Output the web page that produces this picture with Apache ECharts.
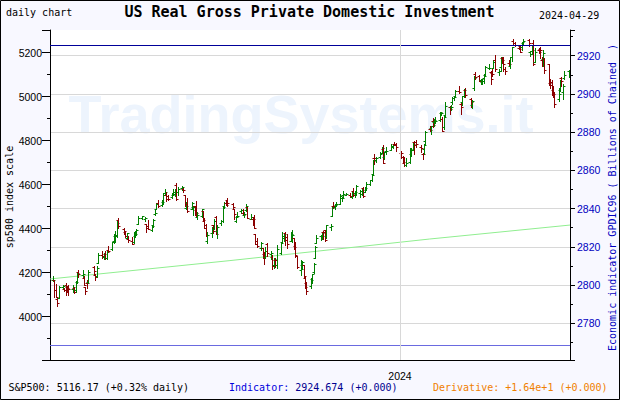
<!DOCTYPE html>
<html><head><meta charset="utf-8">
<script src="https://cdn.jsdelivr.net/npm/echarts@6.0.0/dist/echarts.min.js"></script>
<style>html,body{margin:0;padding:0;background:#f8f8ff}#c{width:620px;height:400px}</style>
</head><body><div id="c"></div>
<script>
// S&P500 daily bars: [day, open, high, low, close]
const m2023_05 = [[1,4166,4186,4164,4168],[2,4165,4165,4089,4120],[3,4122,4148,4088,4091],[4,4082,4083,4049,4061],[5,4084,4139,4084,4136],[8,4137,4143,4124,4138],[9,4125,4131,4116,4119],[10,4144,4155,4099,4138],[11,4133,4135,4110,4131],[12,4139,4143,4099,4124],[15,4127,4142,4114,4136],[16,4128,4136,4109,4110],[17,4123,4164,4114,4159],[18,4157,4202,4154,4198],[19,4204,4213,4180,4192],[22,4191,4210,4180,4193],[23,4176,4186,4143,4146],[24,4133,4133,4103,4115],[25,4155,4166,4129,4151],[26,4157,4213,4155,4205],[30,4227,4231,4193,4206],[31,4191,4195,4166,4180]];
const m2023_06 = [[1,4184,4232,4181,4221],[2,4242,4290,4242,4282],[5,4282,4299,4267,4274],[6,4271,4288,4263,4284],[7,4285,4299,4264,4268],[8,4268,4298,4261,4294],[9,4305,4322,4293,4299],[12,4308,4340,4303,4339],[13,4345,4375,4337,4369],[14,4367,4391,4340,4373],[15,4366,4439,4364,4426],[16,4440,4449,4405,4410],[20,4397,4401,4377,4389],[21,4387,4388,4360,4366],[22,4356,4382,4352,4382],[23,4355,4366,4341,4348],[26,4345,4363,4328,4329],[27,4338,4384,4336,4378],[28,4367,4391,4361,4377],[29,4382,4398,4372,4396],[30,4422,4458,4422,4450]];
const m2023_07 = [[3,4450,4456,4442,4456],[5,4443,4454,4437,4447],[6,4423,4423,4386,4412],[7,4404,4440,4398,4399],[10,4394,4412,4389,4410],[11,4415,4443,4408,4439],[12,4467,4488,4464,4472],[13,4491,4518,4491,4510],[14,4515,4528,4498,4505],[17,4509,4532,4504,4523],[18,4521,4563,4514,4555],[19,4563,4578,4557,4566],[20,4555,4565,4527,4535],[21,4550,4555,4532,4536],[24,4543,4564,4541,4555],[25,4555,4580,4553,4567],[26,4558,4582,4548,4567],[27,4598,4607,4528,4537],[28,4566,4590,4554,4582],[31,4585,4594,4574,4589]];
const m2023_08 = [[1,4579,4585,4567,4577],[2,4551,4552,4505,4513],[3,4494,4520,4490,4502],[4,4514,4540,4475,4478],[7,4491,4520,4491,4518],[8,4498,4503,4464,4499],[9,4501,4502,4461,4468],[10,4487,4527,4458,4469],[11,4451,4476,4444,4464],[14,4458,4490,4453,4490],[15,4478,4479,4433,4438],[16,4433,4450,4404,4404],[17,4417,4421,4365,4370],[18,4345,4387,4335,4370],[21,4380,4408,4360,4400],[22,4415,4418,4382,4388],[23,4397,4443,4397,4436],[24,4455,4458,4375,4376],[25,4389,4418,4356,4406],[28,4426,4439,4415,4433],[29,4433,4501,4432,4498],[30,4501,4522,4496,4515],[31,4518,4532,4507,4508]];
const m2023_09 = [[1,4531,4541,4502,4516],[5,4511,4516,4491,4497],[6,4490,4490,4442,4465],[7,4434,4457,4430,4451],[8,4451,4474,4452,4457],[11,4481,4491,4470,4487],[12,4473,4488,4460,4462],[13,4463,4477,4455,4467],[14,4487,4511,4478,4505],[15,4497,4498,4447,4450],[18,4445,4466,4442,4454],[19,4445,4449,4417,4444],[20,4452,4461,4402,4402],[21,4374,4375,4329,4330],[22,4342,4357,4317,4320],[25,4311,4338,4303,4337],[26,4313,4314,4266,4274],[27,4283,4293,4239,4275],[28,4270,4317,4265,4300],[29,4328,4333,4274,4288]];
const m2023_10 = [[2,4285,4300,4261,4288],[3,4270,4282,4217,4229],[4,4233,4268,4220,4264],[5,4259,4268,4226,4258],[6,4234,4324,4220,4309],[9,4290,4336,4284,4336],[10,4340,4385,4339,4358],[11,4367,4379,4346,4377],[12,4381,4386,4325,4350],[13,4360,4377,4311,4328],[16,4343,4384,4343,4374],[17,4346,4394,4339,4373],[18,4358,4358,4306,4315],[19,4322,4339,4273,4278],[20,4274,4276,4223,4224],[23,4211,4256,4190,4217],[24,4236,4255,4220,4248],[25,4233,4236,4181,4187],[26,4175,4184,4128,4137],[27,4153,4157,4104,4117],[30,4140,4177,4132,4167],[31,4171,4195,4153,4194]];
const m2023_11 = [[1,4201,4246,4197,4238],[2,4268,4319,4268,4318],[3,4335,4373,4335,4358],[6,4365,4372,4348,4366],[7,4366,4387,4355,4378],[8,4384,4391,4355,4383],[9,4392,4394,4346,4347],[10,4365,4418,4359,4415],[13,4407,4421,4396,4412],[14,4459,4505,4459,4496],[15,4505,4521,4496,4503],[16,4498,4511,4488,4508],[17,4509,4521,4502,4514],[20,4512,4557,4511,4547],[21,4538,4542,4526,4538],[22,4553,4569,4542,4557],[24,4555,4560,4553,4559],[27,4555,4562,4546,4550],[28,4546,4568,4541,4555],[29,4571,4587,4547,4551],[30,4560,4570,4546,4568]];
const m2023_12 = [[1,4559,4600,4554,4595],[4,4564,4574,4546,4570],[5,4557,4579,4551,4567],[6,4586,4590,4546,4549],[7,4568,4591,4566,4586],[8,4577,4610,4574,4604],[11,4601,4623,4598,4622],[12,4619,4644,4615,4644],[13,4647,4710,4644,4707],[14,4722,4738,4694,4720],[15,4714,4726,4702,4719],[18,4726,4748,4721,4741],[19,4744,4769,4744,4768],[20,4764,4779,4698,4698],[21,4724,4748,4716,4747],[22,4754,4773,4740,4755],[26,4759,4785,4759,4775],[27,4773,4785,4768,4782],[28,4786,4793,4781,4783],[29,4782,4789,4751,4770]];
const m2024_01 = [[2,4745,4755,4722,4743],[3,4726,4729,4700,4705],[4,4698,4726,4687,4689],[5,4690,4722,4683,4697],[8,4704,4765,4700,4764],[9,4741,4765,4730,4757],[10,4759,4791,4757,4783],[11,4792,4799,4740,4780],[12,4792,4803,4769,4784],[16,4772,4782,4747,4766],[17,4740,4744,4715,4739],[18,4760,4785,4740,4781],[19,4797,4842,4785,4840],[22,4853,4868,4844,4850],[23,4856,4866,4832,4865],[24,4888,4903,4861,4869],[25,4886,4899,4867,4894],[26,4888,4907,4881,4891],[29,4893,4929,4888,4928],[30,4925,4932,4917,4925],[31,4899,4907,4845,4846]];
const m2024_02 = [[1,4862,4911,4853,4906],[2,4916,4976,4910,4959],[5,4951,4957,4919,4943],[6,4951,4963,4938,4954],[7,4974,5000,4968,4995],[8,4995,5004,4987,4998],[9,5005,5031,5000,5027],[12,5027,5048,5016,5022],[13,4967,4971,4920,4953],[14,4976,5003,4963,5001],[15,5003,5033,5000,5030],[16,5032,5039,4999,5006],[20,4990,4994,4953,4976],[21,4963,4983,4947,4982],[22,5038,5094,5032,5087],[23,5101,5111,5081,5089],[26,5093,5097,5069,5070],[27,5074,5081,5057,5078],[28,5067,5077,5058,5070],[29,5085,5104,5061,5096]];
const m2024_03 = [[1,5099,5140,5094,5137],[4,5131,5149,5127,5131],[5,5110,5115,5057,5079],[6,5109,5127,5092,5105],[7,5132,5165,5131,5157],[8,5165,5189,5118,5124],[11,5112,5125,5099,5118],[12,5134,5179,5115,5175],[13,5174,5180,5151,5165],[14,5176,5179,5117,5150],[15,5124,5136,5105,5117],[18,5154,5166,5138,5149],[19,5140,5180,5131,5179],[20,5181,5225,5161,5225],[21,5253,5261,5240,5242],[22,5243,5247,5230,5234],[25,5219,5229,5216,5218],[26,5228,5236,5203,5204],[27,5226,5249,5214,5248],[28,5243,5264,5241,5254]];
const m2024_04 = [[1,5258,5263,5230,5244],[2,5205,5208,5185,5206],[3,5194,5228,5193,5211],[4,5245,5256,5146,5147],[5,5158,5222,5157,5204],[8,5212,5219,5198,5202],[9,5217,5225,5175,5210],[10,5168,5178,5138,5161],[11,5172,5211,5138,5199],[12,5172,5176,5108,5123],[15,5149,5150,5053,5062],[16,5064,5080,5039,5051],[17,5068,5077,5008,5022],[18,5031,5047,4999,5011],[19,5006,5019,4954,4967],[22,4988,5039,4978,5011],[23,5028,5077,5027,5071],[24,5084,5089,5048,5072],[25,5019,5058,4990,5048],[26,5085,5115,5080,5100],[29,5115,5123,5089,5116]];

// Economic indicator line (right axis): [date, value]
const indicatorDates = ["2023-04-29", "2023-09-03", "2024-01-22", "2024-04-30"];
const indicatorValues = [2803.2, 2812.8, 2824.1, 2831.4];
// Reference levels (right axis)
const upperLevel = 2925.4;
const lowerLevel = 2768.6;
const yearLabelDate = "2024-01-01";
const yearLabel = "2024";

const monthly = [
  ["2023-05", m2023_05], ["2023-06", m2023_06], ["2023-07", m2023_07], ["2023-08", m2023_08],
  ["2023-09", m2023_09], ["2023-10", m2023_10], ["2023-11", m2023_11], ["2023-12", m2023_12],
  ["2024-01", m2024_01], ["2024-02", m2024_02], ["2024-03", m2024_03], ["2024-04", m2024_04]
];
function ts(s) { const p = s.split('-').map(Number); return Date.UTC(p[0], p[1] - 1, p[2] || 1); }
const bars = [];
monthly.forEach(([ym, rows]) => {
  const [y, m] = ym.split('-').map(Number);
  rows.forEach(r => bars.push([Date.UTC(y, m - 1, r[0]), r[1], r[2], r[3], r[4]]));
});
const indicatorData = indicatorDates.map((d, i) => [ts(d), indicatorValues[i]]);

const upColor = '#008000', downColor = '#8b0000';
function renderOHLC(params, api) {
  const t = api.value(0), o = api.value(1), h = api.value(2), l = api.value(3), c = api.value(4);
  const ph = api.coord([t, h]), pl = api.coord([t, l]), po = api.coord([t, o]), pc = api.coord([t, c]);
  const x = Math.round(ph[0]) + 0.5;
  const col = c >= o ? upColor : downColor;
  const yo = Math.round(po[1]) + 0.5, yc = Math.round(pc[1]) + 0.5;
  const st = { stroke: col, lineWidth: 1 };
  return { type: 'group', children: [
    { type: 'line', shape: { x1: x, y1: Math.round(ph[1]), x2: x, y2: Math.round(pl[1]) + 1 }, style: st },
    { type: 'line', shape: { x1: x - 2, y1: yo, x2: x, y2: yo }, style: st },
    { type: 'line', shape: { x1: x, y1: yc, x2: x + 2, y2: yc }, style: st }
  ]};
}

const mono = 'DejaVu Sans Mono';
const sans = '"Liberation Sans", Arial, sans-serif';
const plain = v => String(Math.round(v));
const chart = echarts.init(document.getElementById('c'), null, { renderer: 'svg' });
chart.setOption({
  animation: false,
  backgroundColor: '#f8f8ff',
  grid: { left: 50, right: 50, top: 30, bottom: 40, containLabel: false },
  graphic: [
    { type: 'rect', z: -100, shape: { x: 50, y: 30, width: 520, height: 330 }, style: { fill: '#ffffff' }, silent: true },
    { type: 'text', z: -50, x: 301, y: 114, style: { text: 'TradingSystems.it', font: 'bold 54px ' + sans, fill: '#edf4fd', align: 'center', verticalAlign: 'middle' }, silent: true },
    { type: 'rect', z: 100, shape: { x: 0.5, y: 0.5, width: 619, height: 399 }, style: { fill: 'none', stroke: '#000', lineWidth: 1 }, silent: true },
    { type: 'text', x: 6, y: 12.5, style: { text: 'daily chart', font: '10px "' + mono + '"', fill: '#000', verticalAlign: 'middle' } },
    { type: 'text', x: 309.5, y: 12, style: { text: 'US Real Gross Private Domestic Investment', font: 'bold 15px "' + mono + '"', fill: '#000', align: 'center', verticalAlign: 'middle' } },
    { type: 'text', x: 539, y: 15.8, style: { text: '2024-04-29', font: '10px "' + mono + '"', fill: '#000', verticalAlign: 'middle' } },
    { type: 'text', x: 9.5, y: 197, rotation: Math.PI / 2, style: { text: 'sp500 index scale', font: '10px "' + mono + '"', fill: '#000', align: 'center', verticalAlign: 'middle' } },
    { type: 'text', x: 612.5, y: 197.5, rotation: Math.PI / 2, style: { text: 'Economic indicator GPDIC96 ( Billions of Chained  )', font: '10px "' + mono + '"', fill: '#0000c0', align: 'center', verticalAlign: 'middle' } },
    { type: 'text', x: 8.5, y: 387.5, style: { text: 'S&P500: 5116.17 (+0.32% daily)', font: '10px "' + mono + '"', fill: '#000', verticalAlign: 'middle' } },
    { type: 'text', x: 229, y: 387.5, style: { text: 'Indicator:', font: '10px "' + mono + '"', fill: '#0000dd', verticalAlign: 'middle' } },
    { type: 'text', x: 295.2, y: 387.5, style: { text: '2924.674 (+0.000)', font: '10px "' + mono + '"', fill: '#000090', verticalAlign: 'middle' } },
    { type: 'text', x: 433, y: 387.5, style: { text: 'Derivative: +1.64e+1 (+0.000)', font: '10px "' + mono + '"', fill: '#f08000', verticalAlign: 'middle' } }
  ],
  xAxis: {
    type: 'value', min: ts('2023-04-29'), max: ts('2024-04-30'),
    axisLine: { show: true, onZero: false, lineStyle: { color: '#000', width: 1 } },
    axisTick: { show: false },
    splitLine: { show: false },
    axisLabel: { show: false }
  },
  yAxis: [
    {
      type: 'value', position: 'left', min: 3803, max: 5303, splitNumber: 7, minInterval: 200, maxInterval: 200,
      axisLine: { show: true, lineStyle: { color: '#000' } },
      axisTick: { show: true, length: 8, lineStyle: { color: '#000' } },
      minorTick: { show: true, splitNumber: 2, length: 3, lineStyle: { color: '#000' } },
      splitLine: { show: false },
      axisLabel: { color: '#000', fontSize: 10.5, fontFamily: sans, margin: 8, showMinLabel: false, showMaxLabel: false, formatter: plain }
    },
    {
      type: 'value', position: 'right', min: 2760.8, max: 2933.45, splitNumber: 8, minInterval: 20, maxInterval: 20,
      axisLine: { show: true, lineStyle: { color: '#000' } },
      axisTick: { show: true, length: 5, lineStyle: { color: '#000' } },
      minorTick: { show: true, splitNumber: 2, length: 3, lineStyle: { color: '#000' } },
      splitLine: { show: true, showMinLine: false, showMaxLine: false, lineStyle: { color: '#d8d8d8', width: 1 } },
      axisLabel: { color: '#0000c0', fontSize: 10.5, fontFamily: sans, margin: 7, showMinLabel: false, showMaxLabel: false, formatter: plain }
    }
  ],
  series: [
    {
      type: 'line', yAxisIndex: 1, data: indicatorData, showSymbol: false, symbol: 'none', z: 3,
      lineStyle: { color: '#90ee90', width: 1 },
      markLine: {
        silent: true, symbol: 'none', animation: false,
        label: { show: false },
        data: [
          { yAxis: upperLevel, lineStyle: { color: '#000099', width: 1, type: 'solid' } },
          { yAxis: lowerLevel, lineStyle: { color: '#6a6ae0', width: 1, type: 'solid' } },
          { xAxis: ts(yearLabelDate), lineStyle: { color: '#d8d8d8', width: 1, type: 'solid' },
            label: { show: true, position: 'start', formatter: yearLabel, color: '#000', fontSize: 10.5, fontFamily: sans, distance: 10 } }
        ]
      }
    },
    {
      type: 'custom', xAxisIndex: 0, yAxisIndex: 0, data: bars, renderItem: renderOHLC, z: 4,
      encode: { x: 0, y: [1, 2, 3, 4] }, clip: true
    }
  ]
});
</script></body></html>
